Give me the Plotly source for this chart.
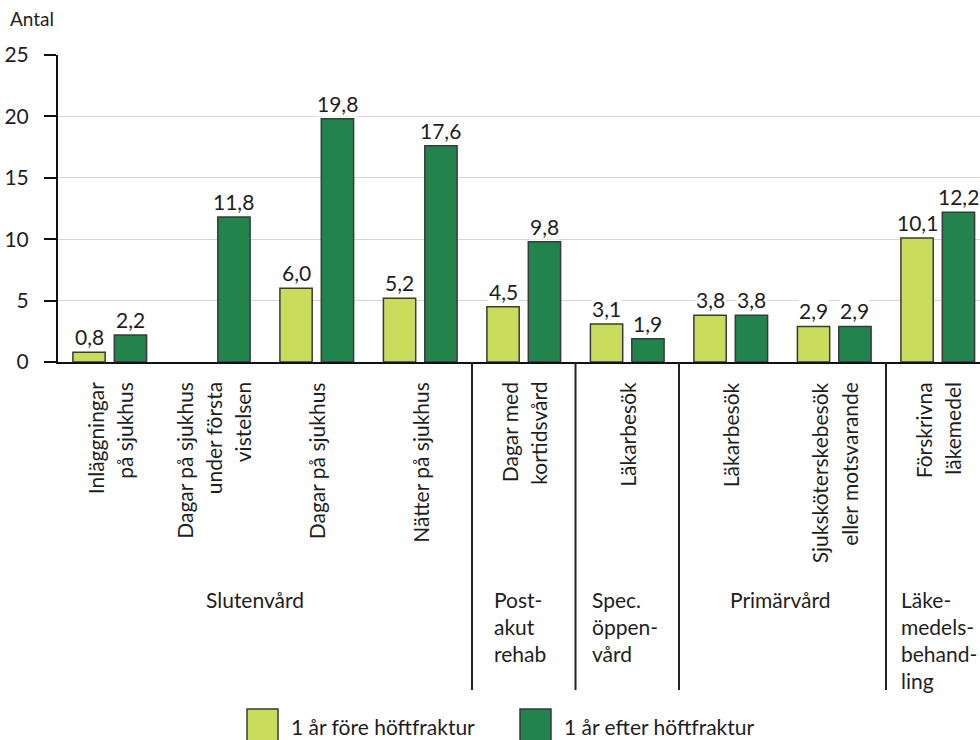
import plotly.graph_objects as go

# ---- data ----
categories = [
    "Inläggningar<br>på sjukhus",
    "Dagar på sjukhus<br>under första<br>vistelsen",
    "Dagar på sjukhus",
    "Nätter på sjukhus",
    "Dagar med<br>kortidsvård",
    "Läkarbesök",
    "Läkarbesök",
    "Sjuksköterskebesök<br>eller motsvarande",
    "Förskrivna<br>läkemedel",
]
before = [0.8, None, 6.0, 5.2, 4.5, 3.1, 3.8, 2.9, 10.1]
after = [2.2, 11.8, 19.8, 17.6, 9.8, 1.9, 3.8, 2.9, 12.2]
series_names = ["1 år före höftfraktur", "1 år efter höftfraktur"]
groups = ["Slutenvård", "Post-<br>akut<br>rehab", "Spec.<br>öppen-<br>vård", "Primärvård",
          "Läke-<br>medels-<br>behand-<br>ling"]
y_ticks = [0, 5, 10, 15, 20, 25]
y_title = "Antal"

# ---- style ----
FONT = "Lato"
LIGHT = "#c9dc5c"
DARK = "#23834c"
EDGE = "#3a3a3a"
TXT = "#1e1e1e"
FS = 21

W, H = 980, 740
ML, MR, MT, MB = 58, 0, 55, 378
PW, PH = W - ML - MR, H - MT - MB
x_min = -0.5
step = 103.5
x_max = x_min + PW / step


def py(p):  # pixel y -> paper y
    return (H - MB - p) / PH


def px(p):  # pixel x -> paper x
    return (p - ML) / PW


xs = list(range(len(categories)))
fig = go.Figure()
fig.add_trace(go.Bar(x=xs, y=before, name=series_names[0], marker=dict(color=LIGHT, line=dict(color=EDGE, width=1.5)), showlegend=False))
fig.add_trace(go.Bar(x=xs, y=after, name=series_names[1], marker=dict(color=DARK, line=dict(color=EDGE, width=1.5)), showlegend=False))

bargap, bgg = 0.2, 0.22
slot = (1 - bargap) / 2

ann = []
# value labels
for vals, off in ((before, -slot / 2), (after, slot / 2)):
    for i, v in enumerate(vals):
        if v is None:
            continue
        ann.append(dict(x=i + off, y=v, xref="x", yref="y", text=f"{v:.1f}".replace(".", ","),
                        showarrow=False, yanchor="bottom", yshift=2, bgcolor="white", borderpad=0,
                        font=dict(family=FONT, size=FS, color=TXT)))

# rotated category labels (each line separately for wider line spacing)
LS = 29
for i, c in enumerate(categories):
    lines = c.split("<br>")
    n = len(lines)
    for k, ln in enumerate(lines):
        ann.append(dict(x=i, y=py(380), xref="x", yref="paper", text=ln, textangle=-90,
                        showarrow=False, yanchor="top", xanchor="center",
                        xshift=(k - (n - 1) / 2) * LS,
                        font=dict(family=FONT, size=FS, color=TXT)))

# group labels
group_pos = [(1.4, "center", 0), (3.5, "left", 20), (4.5, "left", 14), (6.48, "center", 0), (7.5, "left", 13)]
GL = 27
for g, (gx, anc, sh) in zip(groups, group_pos):
    for k, ln in enumerate(g.split("<br>")):
        ann.append(dict(x=gx, y=py(599 + k * GL), xref="x", yref="paper", text=ln, showarrow=False,
                        xanchor=anc, yanchor="middle", xshift=sh,
                        font=dict(family=FONT, size=FS, color=TXT)))

# y title
ann.append(dict(x=px(8), y=py(19), xref="paper", yref="paper", text=y_title, showarrow=False,
                xanchor="left", yanchor="middle", font=dict(family=FONT, size=19, color=TXT)))

shapes = []
# separators
for sx in (3.5, 4.5, 5.5, 7.5):
    shapes.append(dict(type="line", xref="x", yref="paper", x0=sx, x1=sx, y0=0, y1=py(690),
                       line=dict(color="#222", width=2)))

# manual legend
leg = [(247, LIGHT, 289, series_names[0]), (520, DARK, 562, series_names[1])]
for sx0, col, tx, name in leg:
    shapes.append(dict(type="rect", xref="paper", yref="paper", x0=px(sx0), x1=px(sx0 + 31),
                       y0=py(748), y1=py(709), fillcolor=col, line=dict(color=EDGE, width=1.5)))
    ann.append(dict(x=px(tx), y=py(726), xref="paper", yref="paper", text=name, showarrow=False,
                    xanchor="left", yanchor="middle", font=dict(family=FONT, size=FS, color=TXT)))

fig.update_layout(
    width=W, height=H,
    margin=dict(l=ML, r=MR, t=MT, b=MB, pad=0),
    paper_bgcolor="white", plot_bgcolor="white",
    barmode="group", bargap=bargap, bargroupgap=bgg,
    font=dict(family=FONT, size=FS, color=TXT),
    xaxis=dict(range=[x_min, x_max], showticklabels=False, ticks="", showgrid=False, zeroline=False,
               showline=True, linecolor="#111", linewidth=2),
    yaxis=dict(range=[0, 25], tickvals=y_ticks, ticks="outside", ticklen=12, tickwidth=1.5, tickcolor="#111",
               showline=True, linecolor="#111", linewidth=2, showgrid=True, gridcolor="#d6d6d6", gridwidth=1,
               zeroline=False, ticklabelstandoff=11, tickfont=dict(family=FONT, size=21, color=TXT)),
    annotations=ann,
    shapes=shapes,
    showlegend=False,
)

fig.write_html("out.html")
